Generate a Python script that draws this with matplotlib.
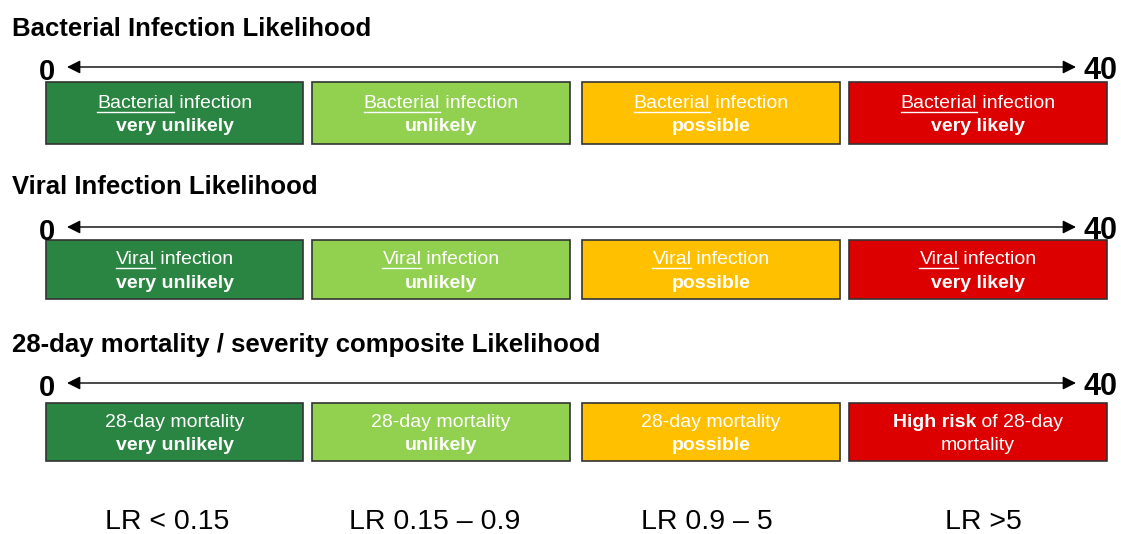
import matplotlib
matplotlib.use("Agg")
import matplotlib.pyplot as plt
from matplotlib.patches import Rectangle

#+++ Data
section_titles = ["Bacterial Infection Likelihood", "Viral Infection Likelihood",
                  "28-day mortality / severity composite Likelihood"]
scale_min, scale_max = "0", "40"
box_colors = ["#2b8542", "#92d050", "#ffc000", "#dc0000"]
lr_labels = ["LR < 0.15", "LR 0.15 \u2013 0.9", "LR 0.9 \u2013 5", "LR >5"]
levels = ["very unlikely", "unlikely", "possible", "very likely"]
# each line is a list of (text, bold, underline) segments
box_lines = [
    [[[("Bacterial", False, True), (" infection", False, False)], [(lv, True, False)]] for lv in levels],
    [[[("Viral", False, True), (" infection", False, False)], [(lv, True, False)]] for lv in levels],
    [[[("28-day mortality", False, False)], [("very unlikely", True, False)]],
     [[("28-day mortality", False, False)], [("unlikely", True, False)]],
     [[("28-day mortality", False, False)], [("possible", True, False)]],
     [[("High risk", True, False), (" of 28-day", False, False)], [("mortality", False, False)]]],
]
#---

#+++ Layout (pixels)
W, H = 1121, 534
plt.rcParams["font.family"] = ["Liberation Sans", "DejaVu Sans"]
fig = plt.figure(figsize=(W / 100, H / 100), dpi=100)
ax = fig.add_axes([0, 0, 1, 1])
ax.set_xlim(0, W)
ax.set_ylim(H, 0)
ax.axis("off")
renderer = fig.canvas.get_renderer()

box_x = [(46, 303), (312, 570), (582, 840), (849, 1107)]
title_y = [29, 187, 345]
arrow_y = [67, 227, 383]
box_y = [(82, 144), (240, 299), (403, 461)]
lr_x = [167, 435, 707, 983]
box_fs = 14
#---

def seg_width(txt, bold):
    t = ax.text(0, 0, txt, fontsize=box_fs, fontweight="bold" if bold else "normal")
    bb = t.get_window_extent(renderer)
    t.remove()
    return bb.width

for r in range(3):
    ax.text(12, title_y[r], section_titles[r], fontsize=18.5, fontweight="bold",
            ha="left", va="center")
    ax.annotate("", xy=(1076, arrow_y[r]), xytext=(67, arrow_y[r]),
                arrowprops=dict(arrowstyle="<|-|>", color="black", lw=1.0,
                                mutation_scale=20, shrinkA=0, shrinkB=0))
    ax.text(47, arrow_y[r] + 5, scale_min, fontsize=21, fontweight="bold", ha="center", va="center")
    ax.text(1100, arrow_y[r] + 4, scale_max, fontsize=22, fontweight="bold", ha="center", va="center")
    y0, y1 = box_y[r]
    for c in range(4):
        x0, x1 = box_x[c]
        ax.add_patch(Rectangle((x0, y0), x1 - x0, y1 - y0, facecolor=box_colors[c],
                               edgecolor="#333333", lw=1.2))
        cx = (x0 + x1) / 2
        cy = (y0 + y1) / 2 + 2
        for li, line in enumerate(box_lines[r][c]):
            ly = cy + (-11.5 if li == 0 else 11.5)
            widths = [seg_width(s, b) for s, b, u in line]
            x = cx - sum(widths) / 2
            for (s, b, u), w in zip(line, widths):
                ax.text(x, ly, s, fontsize=box_fs, color="white",
                        fontweight="bold" if b else "normal", ha="left", va="center")
                if u:
                    ax.plot([x, x + w], [ly + 8, ly + 8], color="white", lw=1.0)
                x += w

for c in range(4):
    ax.text(lr_x[c], 522, lr_labels[c], fontsize=20.5, ha="center", va="center")

fig.savefig("out.png", dpi=100)
